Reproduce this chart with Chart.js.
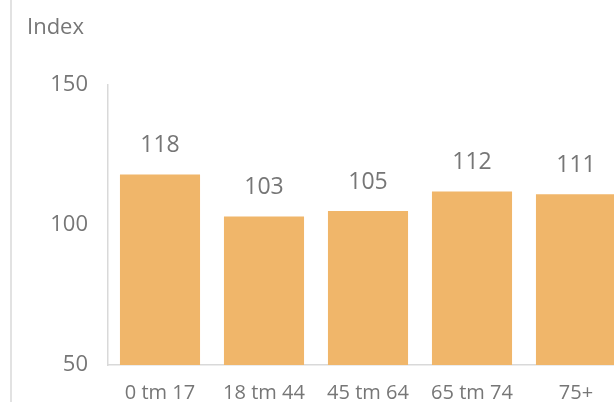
<!DOCTYPE html>
<html>
<head>
<meta charset="utf-8">
<script src="https://cdn.jsdelivr.net/npm/chart.js@4.4.0/dist/chart.umd.min.js"></script>
<style>
  html, body { margin: 0; padding: 0; background: #fff; overflow: hidden; }
  #wrap { position: relative; width: 614px; height: 402px; overflow: hidden; }
  #chart { position: absolute; left: 0; top: 0; }
</style>
</head>
<body>
<div id="wrap"><canvas id="chart" width="628" height="402"></canvas></div>
<script>
// data
const categories = ['0 tm 17', '18 tm 44', '45 tm 64', '65 tm 74', '75+'];
const indexValues = [118, 103, 105, 112, 111];
const yTicks = [50, 100, 150];

const textGrey = '#767676';
const fontFam = '"Open Sans", "Noto Sans", sans-serif';

// labels boven de staven + titel + lijn links
const extras = {
    id: 'extras',
    afterDatasetsDraw(chart) {
        const c = chart.ctx;
        c.save();
        c.fillStyle = textGrey;
        c.font = '23px ' + fontFam;
        c.textAlign = 'center';
        c.textBaseline = 'middle';
        chart.getDatasetMeta(0).data.forEach((bar, i) => {
            c.fillText(String(indexValues[i]), bar.x, bar.y - 29);
        });
        c.font = '22px ' + fontFam;
        c.textAlign = 'left';
        c.fillText('Index', 27, 28);
        c.strokeStyle = '#d9d9d9';
        c.lineWidth = 1.5;
        c.beginPath();
        c.moveTo(11, 0);
        c.lineTo(11, 402);
        c.stroke();
        c.restore();
    }
};

const ctx = document.getElementById('chart').getContext('2d');
const myChart = new Chart(ctx, {
    type: 'bar',
    data: {
        labels: categories,
        datasets: [{
            data: indexValues,
            backgroundColor: '#F0B66A',
            borderWidth: 0,
            categoryPercentage: 1,
            barPercentage: 0.77
        }]
    },
    options: {
        responsive: false,
        animation: false,
        layout: { padding: { top: 85, left: 0, right: 0, bottom: 0 } },
        plugins: { legend: { display: false }, tooltip: { enabled: false } },
        scales: {
            y: {
                min: 50, max: 150,
                afterBuildTicks(scale) { scale.ticks = yTicks.map(v => ({ value: v })); },
                afterFit(scale) { scale.width = 108; },
                ticks: { color: textGrey, font: { size: 22, family: fontFam }, padding: 20 },
                grid: { display: false, drawTicks: false },
                border: { display: true, color: '#d9d9d9', width: 1.5 }
            },
            x: {
                afterFit(scale) { scale.height = 37; },
                ticks: { color: textGrey, font: { size: 20, family: fontFam }, padding: 16, maxRotation: 0 },
                grid: { display: false, drawTicks: false },
                border: { display: true, color: '#d9d9d9', width: 1.5 }
            }
        }
    },
    plugins: [extras]
});
</script>
</body>
</html>
